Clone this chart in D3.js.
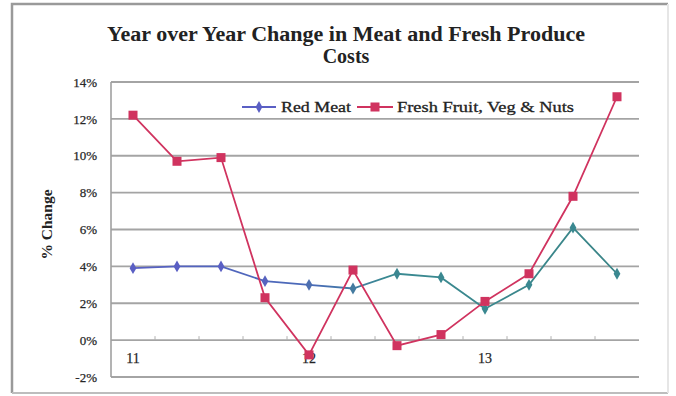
<!DOCTYPE html>
<html>
<head>
<meta charset="utf-8">
<script src="https://cdn.jsdelivr.net/npm/d3@7"></script>
<style>
  html, body { margin: 0; padding: 0; background: #fff; }
  svg { display: block; }
  text { font-family: "Liberation Serif", "Times New Roman", serif; fill: #222; }
</style>
</head>
<body>
<svg id="chart" width="676" height="396"></svg>
<script>
// Quarterly year-over-year change (%)
const quarters = ["11", "", "", "", "12", "", "", "", "13", "", "", ""];
const redMeat = [3.9, 4.0, 4.0, 3.2, 3.0, 2.8, 3.6, 3.4, 1.7, 3.0, 6.1, 3.6];
const freshProduce = [12.2, 9.7, 9.9, 2.3, -0.8, 3.8, -0.3, 0.3, 2.1, 3.6, 7.8, 13.2];
const yTicks = [-2, 0, 2, 4, 6, 8, 10, 12, 14];
const seriesNames = ["Red Meat", "Fresh Fruit, Veg & Nuts"];

const svg = d3.select("#chart");
const W = 676, H = 396;
const plot = { left: 111, right: 639, top: 82, bottom: 377 };

// outer frame
svg.append("rect").attr("x", 0).attr("y", 0).attr("width", W).attr("height", H).attr("fill", "#fff");
svg.append("path")
  .attr("d", `M12,${H - 3} L12,4 L668,4`)
  .attr("fill", "none").attr("stroke", "#9a9a9a").attr("stroke-width", 2.5);
svg.append("line").attr("x1", 12).attr("x2", 668).attr("y1", H - 3).attr("y2", H - 3)
  .attr("stroke", "#bdbdbd").attr("stroke-width", 2);
svg.append("line").attr("x1", 668).attr("x2", 668).attr("y1", 4).attr("y2", H - 3)
  .attr("stroke", "#e6e6e6").attr("stroke-width", 2);

const x = d3.scaleBand().domain(d3.range(quarters.length)).range([plot.left, plot.right]);
const y = d3.scaleLinear().domain([-2, 14]).range([plot.bottom, plot.top]);
const cx = i => x(i) + x.bandwidth() / 2;

// horizontal gridlines
svg.append("g").selectAll("line").data(yTicks).join("line")
  .attr("x1", plot.left).attr("x2", plot.right)
  .attr("y1", d => y(d)).attr("y2", d => y(d))
  .attr("stroke", "#a4a4a4").attr("stroke-width", 1.8);

// left axis line
svg.append("line").attr("x1", plot.left).attr("x2", plot.left)
  .attr("y1", plot.top).attr("y2", plot.bottom)
  .attr("stroke", "#a0a0a0").attr("stroke-width", 1.6);

// y axis labels
const yAxis = d3.axisLeft(y).tickValues(yTicks).tickFormat(d => d + "%").tickSize(0).tickPadding(14);
const gy = svg.append("g").attr("transform", `translate(${plot.left},0)`).call(yAxis);
gy.select(".domain").remove();
gy.selectAll("text").style("font-family", "Liberation Serif, serif").style("font-size", "13px")
  .attr("fill", "#333").attr("stroke", "#333").attr("stroke-width", 0.25);

// category ticks on the zero line
svg.append("g").selectAll("line").data(d3.range(1, quarters.length)).join("line")
  .attr("x1", d => x(d)).attr("x2", d => x(d))
  .attr("y1", y(0) - 4).attr("y2", y(0))
  .attr("stroke", "#b0b0b0").attr("stroke-width", 1);

// category labels
svg.append("g").selectAll("text").data(quarters.map((q, i) => ({ q, i })).filter(d => d.q)).join("text")
  .attr("x", d => cx(d.i)).attr("y", y(0) + 23)
  .attr("text-anchor", "middle").style("font-size", "14px").attr("fill", "#333")
  .attr("stroke", "#333").attr("stroke-width", 0.25)
  .text(d => d.q);

// y axis title
svg.append("text")
  .attr("transform", `translate(52,${(plot.top + plot.bottom) / 2 - 5}) rotate(-90)`)
  .attr("text-anchor", "middle").style("font-size", "15.5px").style("font-weight", "bold")
  .text("% Change");

// chart title
svg.append("text").attr("x", 346).attr("y", 41).attr("text-anchor", "middle")
  .style("font-size", "20px").style("font-weight", "bold")
  .attr("textLength", 478).attr("lengthAdjust", "spacingAndGlyphs")
  .text("Year over Year Change in Meat and Fresh Produce");
svg.append("text").attr("x", 346).attr("y", 63).attr("text-anchor", "middle")
  .style("font-size", "20px").style("font-weight", "bold")
  .text("Costs");

// colour ramp used by the red meat series
const defs = svg.append("defs");
const grad = defs.append("linearGradient").attr("id", "meatGrad")
  .attr("gradientUnits", "userSpaceOnUse")
  .attr("x1", plot.left).attr("x2", plot.right).attr("y1", 0).attr("y2", 0);
grad.append("stop").attr("offset", "0%").attr("stop-color", "#5a5fc4");
grad.append("stop").attr("offset", "38%").attr("stop-color", "#4a6ab8");
grad.append("stop").attr("offset", "52%").attr("stop-color", "#3a8a92");
grad.append("stop").attr("offset", "100%").attr("stop-color", "#3a8486");

const meatColor = i => d3.interpolateRgb("#5a5fc4", "#3a8890")(Math.max(0, Math.min(1, (cx(i) - 250) / 150)));
const produceColor = "#d0335f";

const line = d3.line().x((d, i) => cx(i)).y(d => y(d));

// red meat series
svg.append("path").datum(redMeat).attr("d", line)
  .attr("fill", "none").attr("stroke", "url(#meatGrad)").attr("stroke-width", 1.8);
svg.append("g").selectAll("path").data(redMeat).join("path")
  .attr("transform", (d, i) => `translate(${cx(i)},${y(d)})`)
  .attr("d", d3.symbol(d3.symbolDiamond, 40))
  .attr("fill", (d, i) => meatColor(i));

// fresh produce series
svg.append("path").datum(freshProduce).attr("d", line)
  .attr("fill", "none").attr("stroke", produceColor).attr("stroke-width", 1.8);
svg.append("g").selectAll("rect").data(freshProduce).join("rect")
  .attr("x", (d, i) => cx(i) - 4.5).attr("y", d => y(d) - 4.5)
  .attr("width", 9).attr("height", 9)
  .attr("fill", produceColor);

// legend
const lg = svg.append("g");
const ly = 107;
lg.append("line").attr("x1", 242).attr("x2", 276).attr("y1", ly).attr("y2", ly)
  .attr("stroke", "#5a5fc4").attr("stroke-width", 1.8);
lg.append("path").attr("transform", `translate(259,${ly})`)
  .attr("d", d3.symbol(d3.symbolDiamond, 40)).attr("fill", "#5a5fc4");
lg.append("text").attr("x", 281).attr("y", ly + 5).style("font-size", "15px")
  .attr("stroke", "#222").attr("stroke-width", 0.3)
  .attr("textLength", 70).attr("lengthAdjust", "spacingAndGlyphs").text(seriesNames[0]);
lg.append("line").attr("x1", 357).attr("x2", 393).attr("y1", ly).attr("y2", ly)
  .attr("stroke", produceColor).attr("stroke-width", 1.8);
lg.append("rect").attr("x", 370.5).attr("y", ly - 4.5).attr("width", 9).attr("height", 9).attr("fill", produceColor);
lg.append("text").attr("x", 397).attr("y", ly + 5).style("font-size", "15px")
  .attr("stroke", "#222").attr("stroke-width", 0.3)
  .attr("textLength", 177).attr("lengthAdjust", "spacingAndGlyphs").text(seriesNames[1]);
</script>
</body>
</html>
